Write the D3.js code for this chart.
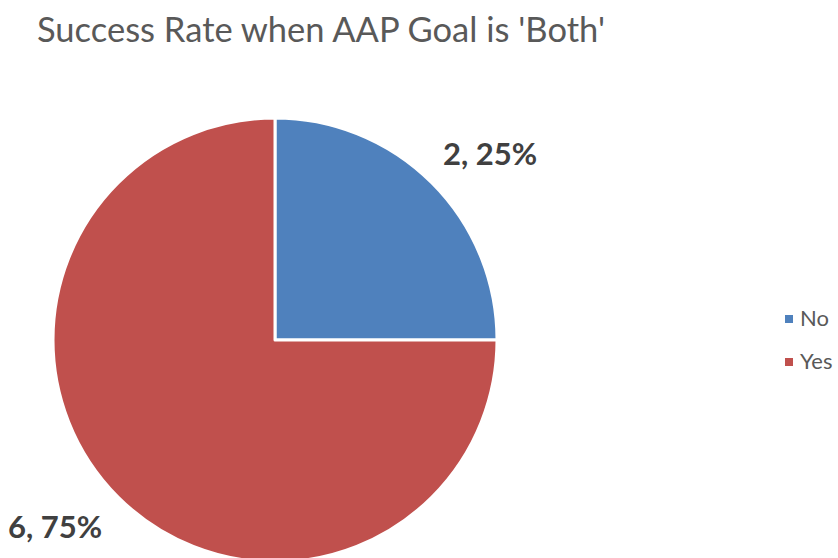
<!DOCTYPE html>
<html><head><meta charset="utf-8">
<script src="https://cdn.jsdelivr.net/npm/d3@7"></script>
<style>body{margin:0;background:#fff}svg{display:block}</style>
</head><body>
<script>
const categories = ["No", "Yes"];
const values = [2, 6];
const colors = ["#4F81BD", "#C0504D"];
const title = "Success Rate when AAP Goal is 'Both'";

const W = 838, H = 558;
const svg = d3.select("body").append("svg").attr("width", W).attr("height", H);
const font = "Lato, 'Open Sans', sans-serif";

svg.append("text").attr("x", 37).attr("y", 42)
  .attr("font-family", font).attr("font-size", 34.5).attr("fill", "#595959")
  .text(title);

const cx = 275, cy = 340, r = 222;
const total = d3.sum(values);
const pie = d3.pie().sort(null).value(d => d)(values);
const arc = d3.arc().innerRadius(0).outerRadius(r);
const g = svg.append("g").attr("transform", `translate(${cx},${cy})`);
g.selectAll("path").data(pie).enter().append("path")
  .attr("d", arc).attr("fill", (d, i) => colors[i])
  .attr("stroke", "#fff").attr("stroke-width", 3).attr("stroke-linejoin", "round");

const fmt = d3.format(".0%");
const labelPos = [[490, 165], [55, 538]];
svg.selectAll("text.lbl").data(pie).enter().append("text").attr("class", "lbl")
  .attr("x", (d, i) => labelPos[i][0]).attr("y", (d, i) => labelPos[i][1])
  .attr("text-anchor", "middle")
  .attr("font-family", font).attr("font-weight", "bold").attr("font-size", 31).attr("fill", "#404040")
  .text(d => `${d.data}, ${fmt(d.data / total)}`);

const leg = svg.append("g").attr("transform", "translate(785,0)");
categories.forEach((c, i) => {
  const y = 319 + i * 43;
  leg.append("rect").attr("x", 0).attr("y", y - 4).attr("width", 8).attr("height", 8).attr("fill", colors[i]);
  leg.append("text").attr("x", 15).attr("y", y + 7)
    .attr("font-family", font).attr("font-size", 22).attr("fill", "#595959").text(c);
});
</script>
</body></html>
